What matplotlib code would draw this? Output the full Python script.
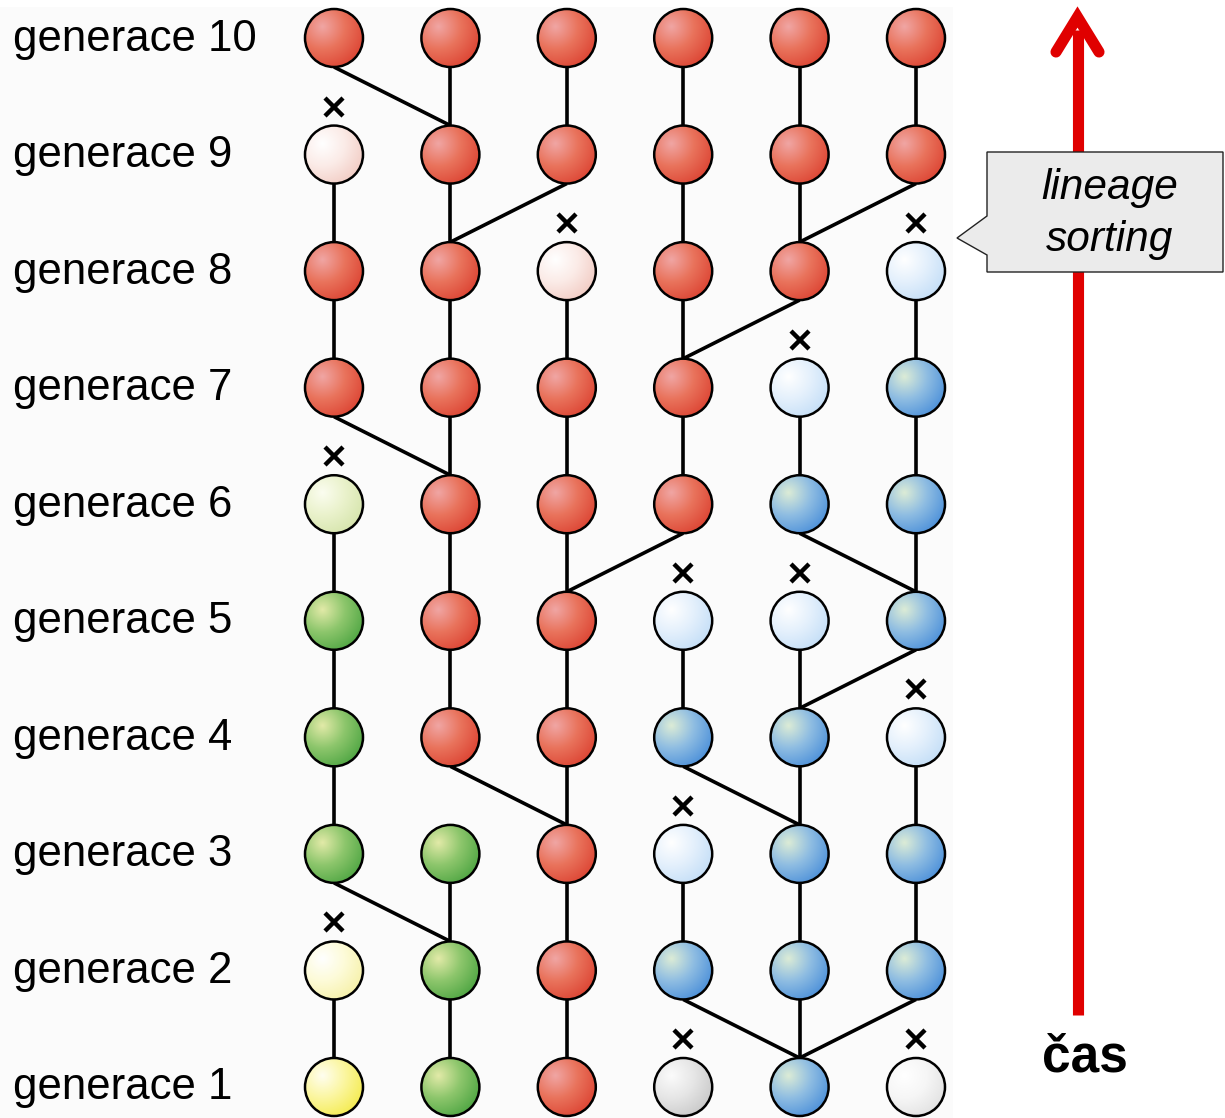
import numpy as np
import matplotlib
matplotlib.use('Agg')
import matplotlib.pyplot as plt
from matplotlib.patches import Circle, Polygon, Rectangle
from matplotlib.colors import to_rgb

plt.rcParams['font.family'] = ['Liberation Sans', 'DejaVu Sans']

W, H = 1225, 1118

# generations from 1 (bottom) to 10 (top), 6 individuals each
gen_labels = ["generace %d" % g for g in range(1, 11)]
node_types = [
    ["Y", "G", "R", "S", "B", "W"],   # generace 1
    ["y", "G", "R", "B", "B", "B"],   # generace 2
    ["G", "G", "R", "b", "B", "B"],   # generace 3
    ["G", "R", "R", "B", "B", "b"],   # generace 4
    ["G", "R", "R", "b", "b", "B"],   # generace 5
    ["g", "R", "R", "R", "B", "B"],   # generace 6
    ["R", "R", "R", "R", "b", "B"],   # generace 7
    ["R", "R", "r", "R", "R", "b"],   # generace 8
    ["r", "R", "R", "R", "R", "R"],   # generace 9
    ["R", "R", "R", "R", "R", "R"],   # generace 10
]
# (parent column -> child column) between generation g and g+1
links = [
    [(0, 0), (1, 1), (2, 2), (4, 3), (4, 4), (4, 5)],
    [(1, 0), (1, 1), (2, 2), (3, 3), (4, 4), (5, 5)],
    [(0, 0), (2, 1), (2, 2), (4, 3), (4, 4), (5, 5)],
    [(0, 0), (1, 1), (2, 2), (3, 3), (4, 4), (4, 5)],
    [(0, 0), (1, 1), (2, 2), (2, 3), (5, 4), (5, 5)],
    [(1, 0), (1, 1), (2, 2), (3, 3), (4, 4), (5, 5)],
    [(0, 0), (1, 1), (2, 2), (3, 3), (3, 4), (5, 5)],
    [(0, 0), (1, 1), (1, 2), (3, 3), (4, 4), (4, 5)],
    [(1, 0), (1, 1), (2, 2), (3, 3), (4, 4), (5, 5)],
]
# (generation index, column) of lineages that die out
crosses = [(0, 3), (0, 5), (1, 0), (2, 3), (3, 5), (4, 3), (4, 4),
           (5, 0), (6, 4), (7, 2), (7, 5), (8, 0)]

# highlight, mid, dark colours of the shaded spheres
palette = {
    "R": ("#f0a6a4", "#e9735c", "#da3c2c"),
    "r": ("#ffffff", "#fbebe7", "#f0c6bd"),
    "G": ("#e2eaa8", "#8dc66c", "#44a03c"),
    "g": ("#fbfdf0", "#eaf2cc", "#d2e2a6"),
    "Y": ("#fffef0", "#fbf6a0", "#f3e940"),
    "y": ("#ffffff", "#fdfbd8", "#f5efa0"),
    "B": ("#dcecd6", "#8fbde2", "#4088d8"),
    "b": ("#ffffff", "#e4f0fc", "#bedbf6"),
    "S": ("#fbfbfb", "#e6e6e6", "#c4c4c4"),
    "W": ("#ffffff", "#f6f6f6", "#dedede"),
}

col_x = np.linspace(334, 916, 6)
row_y = np.linspace(1087, 38, 10)
R = 29


def sphere_img(key, n=80):
    hi, mid, dk = [np.array(to_rgb(c)) for c in palette[key]]
    u, v = np.meshgrid(np.linspace(-1, 1, n), np.linspace(-1, 1, n))
    d = np.clip(np.hypot(u + 0.4, v + 0.4) / 1.75, 0, 1)[..., None]
    t1 = np.clip(d / 0.45, 0, 1)
    t2 = np.clip((d - 0.45) / 0.55, 0, 1)
    img = np.where(d < 0.45, hi + (mid - hi) * t1, mid + (dk - mid) * t2)
    return img


fig = plt.figure(figsize=(W / 100, H / 100), dpi=100)
ax = fig.add_axes([0, 0, 1, 1])
ax.set_xlim(0, W)
ax.set_ylim(H, 0)
ax.axis('off')

ax.add_patch(Rectangle((0, 7), 953, H - 7, facecolor="#fbfbfb", edgecolor="none", zorder=0))

# lines between generations
for g, pairs in enumerate(links):
    for p, c in pairs:
        ax.plot([col_x[p], col_x[c]], [row_y[g] - R, row_y[g + 1] + R],
                color="black", lw=2.6, solid_capstyle='butt', zorder=1)

# spheres
for g, row in enumerate(node_types):
    for c, key in enumerate(row):
        cx, cy = col_x[c], row_y[g]
        im = ax.imshow(sphere_img(key), extent=(cx - R, cx + R, cy + R, cy - R),
                       origin='upper', zorder=2, interpolation='bilinear')
        circ = Circle((cx, cy), R, facecolor="none", edgecolor="black", lw=1.8, zorder=3)
        ax.add_patch(circ)
        im.set_clip_path(circ)

for g, c in crosses:
    ax.plot(col_x[c], row_y[g] - 48, marker='x', ms=13, mew=3.2, color="black", zorder=3)

for g, lab in enumerate(gen_labels):
    ax.text(13, row_y[g] + 1, lab, fontsize=31.5, ha='left', va='center', color="black")

# time arrow
red = "#e00000"
ax.plot([1077.5, 1077.5], [1015, 30], color=red, lw=8, solid_capstyle='butt', zorder=1)
ax.plot([1056, 1077.5, 1099], [52, 17, 52], color=red, lw=8, solid_capstyle='round',
        solid_joinstyle='miter', zorder=1)
ax.text(1085, 1058, "čas", fontsize=37, fontweight='bold', ha='center', va='center')

# callout
ax.add_patch(Polygon([(987, 152), (1223, 152), (1223, 272), (987, 272), (987, 255),
                      (957, 238), (987, 216)], closed=True, facecolor="#ebebeb",
                     edgecolor="#222222", lw=1, zorder=4))
ax.text(1110, 188, "lineage", fontsize=30.5, style='italic', ha='center', va='center', zorder=5)
ax.text(1110, 240, "sorting", fontsize=30.5, style='italic', ha='center', va='center', zorder=5)

fig.savefig("out.png", dpi=100)
